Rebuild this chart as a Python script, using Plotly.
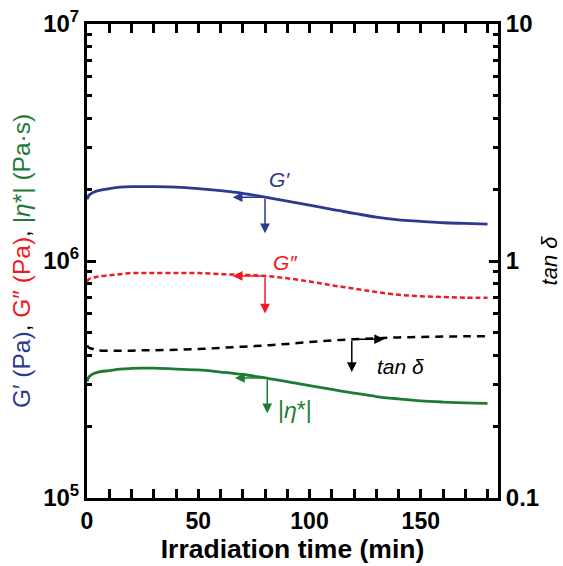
import math
import plotly.graph_objects as go

time_min = [0, 1, 3, 5, 10, 15, 20, 25, 30, 40, 50, 60, 70, 80, 90, 100, 110, 120, 130, 140, 150, 160, 170, 180]
g_prime = [1.82e6, 1.90e6, 1.95e6, 1.98e6, 2.02e6, 2.05e6, 2.06e6, 2.06e6, 2.06e6, 2.05e6, 2.02e6, 1.98e6, 1.93e6, 1.86e6, 1.79e6, 1.72e6, 1.65e6, 1.59e6, 1.53e6, 1.49e6, 1.47e6, 1.45e6, 1.44e6, 1.43e6]
g_double = [0.82e6, 0.84e6, 0.85e6, 0.86e6, 0.87e6, 0.88e6, 0.89e6, 0.89e6, 0.89e6, 0.89e6, 0.89e6, 0.88e6, 0.875e6, 0.865e6, 0.845e6, 0.82e6, 0.79e6, 0.765e6, 0.74e6, 0.72e6, 0.71e6, 0.705e6, 0.70e6, 0.70e6]
tan_delta = [0.44, 0.43, 0.425, 0.42, 0.418, 0.418, 0.418, 0.42, 0.42, 0.422, 0.425, 0.43, 0.435, 0.44, 0.447, 0.455, 0.462, 0.468, 0.472, 0.476, 0.478, 0.48, 0.481, 0.482]
eta_star = [0.31e6, 0.325e6, 0.335e6, 0.34e6, 0.345e6, 0.35e6, 0.352e6, 0.353e6, 0.353e6, 0.35e6, 0.347e6, 0.34e6, 0.332e6, 0.321e6, 0.31e6, 0.298e6, 0.287e6, 0.277e6, 0.268e6, 0.262e6, 0.257e6, 0.254e6, 0.252e6, 0.251e6]

x_tickvals = [0, 50, 100, 150]
x_minorvals = [10, 20, 30, 40, 60, 70, 80, 90, 110, 120, 130, 140, 160, 170, 180]
y_tickvals = [1e5, 1e6, 1e7]
y_ticktext = ["<b>10<sup>5</sup></b>", "<b>10<sup>6</sup></b>", "<b>10<sup>7</sup></b>"]
y_minorvals = [2e5, 3e5, 4e5, 5e5, 6e5, 7e5, 8e5, 9e5, 2e6, 3e6, 4e6, 5e6, 6e6, 7e6, 8e6, 9e6]
y2_tickvals = [0.1, 1, 10]
y2_ticktext = ["<b>0.1</b>", "<b>1</b>", "<b>10</b>"]
y2_minorvals = [0.2, 0.3, 0.4, 0.5, 0.6, 0.7, 0.8, 0.9, 2, 3, 4, 5, 6, 7, 8, 9]

BLUE = "#2B3990"
RED = "#ED1C24"
GREEN = "#1E7B34"
BLACK = "#000000"
FONT = "Liberation Sans, Arial, sans-serif"

fig = go.Figure()
fig.add_trace(go.Scatter(x=time_min, y=g_prime, mode="lines", line=dict(color=BLUE, width=2.8, shape="spline"), showlegend=False))
fig.add_trace(go.Scatter(x=time_min, y=g_double, mode="lines", line=dict(color=RED, width=2.5, dash="5px,3px", shape="spline"), showlegend=False))
fig.add_trace(go.Scatter(x=time_min, y=eta_star, mode="lines", line=dict(color=GREEN, width=2.8, shape="spline"), showlegend=False))
fig.add_trace(go.Scatter(x=time_min, y=tan_delta, mode="lines", line=dict(color=BLACK, width=2.5, dash="8px,6px", shape="spline"), yaxis="y2", showlegend=False))

L = math.log10

def arrow(x, y, ax, ay, color, yref="y"):
    fig.add_annotation(x=x, y=L(y), ax=ax, ay=L(ay), xref="x", yref=yref, axref="x", ayref=yref,
                       showarrow=True, arrowhead=2, arrowsize=1.3, arrowwidth=1.5, arrowcolor=color, text="")

# G'
arrow(65.5, 1.86e6, 80, 1.86e6, BLUE)
arrow(80, 1.31e6, 80, 1.86e6, BLUE)
# G''
arrow(65.5, 0.865e6, 80, 0.865e6, RED)
arrow(80, 0.60e6, 80, 0.865e6, RED)
# tan delta
arrow(133.5, 0.468, 119, 0.468, BLACK, "y2")
arrow(119, 0.34, 119, 0.468, BLACK, "y2")
# eta
arrow(66.5, 0.321e6, 81, 0.321e6, GREEN)
arrow(81, 0.228e6, 81, 0.321e6, GREEN)

def label(x, y, text, color, yref="y", size=21):
    fig.add_annotation(x=x, y=L(y), xref="x", yref=yref, text=text, showarrow=False,
                       font=dict(family=FONT, size=size, color=color))

label(86.5, 2.2e6, "<i>G′</i>", BLUE)
label(89, 0.99e6, "<i>G″</i>", RED)
label(141, 0.36, "<i>tan δ</i>", BLACK, "y2")
label(93.5, 0.235e6, "|<i>η</i>*|", GREEN, size=23)

common = dict(ticks="inside", ticklen=9, tickwidth=2.5, tickcolor="black",
              showline=True, linewidth=3, linecolor="black", showgrid=False, zeroline=False,
              automargin=False)

fig.update_layout(
    width=563, height=566,
    margin=dict(l=87, r=65, t=24, b=68),
    plot_bgcolor="white", paper_bgcolor="white",
    font=dict(family=FONT, size=24, color="black"),
    xaxis=dict(
        range=[0, 184.7], tickmode="array", tickvals=x_tickvals, ticktext=[f"<b>{v}</b>" for v in x_tickvals],
        minor=dict(ticks="inside", ticklen=5, tickwidth=2.5, tickvals=x_minorvals, tickcolor="black"),
        mirror="allticks", tickfont=dict(size=23),
        title=dict(text="<b>Irradiation time (min)</b>", font=dict(size=26.5), standoff=2),
        **common,
    ),
    yaxis=dict(
        type="log", range=[5, 7], tickmode="array", tickvals=y_tickvals, ticktext=y_ticktext,
        minor=dict(ticks="inside", ticklen=5, tickwidth=2.5, tickvals=y_minorvals, tickcolor="black"),
        title=dict(text=f"<span style='color:{BLUE}'>G′ (Pa)</span>, <span style='color:{RED}'>G″ (Pa)</span>, <span style='color:{GREEN}'>|<i>η</i>*| (Pa·s)</span>",
                   font=dict(size=24.5), standoff=6),
        **common,
    ),
    yaxis2=dict(
        type="log", range=[-1, 1], overlaying="y", side="right", tickmode="array", tickvals=y2_tickvals, ticktext=y2_ticktext,
        minor=dict(ticks="inside", ticklen=5, tickwidth=2.5, tickvals=y2_minorvals, tickcolor="black"),
        title=dict(text="<i>tan δ</i>", font=dict(size=22), standoff=4),
        **common,
    ),
)

fig.write_html("out.html", config={"displayModeBar": False},
               post_script="document.body.style.margin='0';document.body.style.overflow='hidden';")
